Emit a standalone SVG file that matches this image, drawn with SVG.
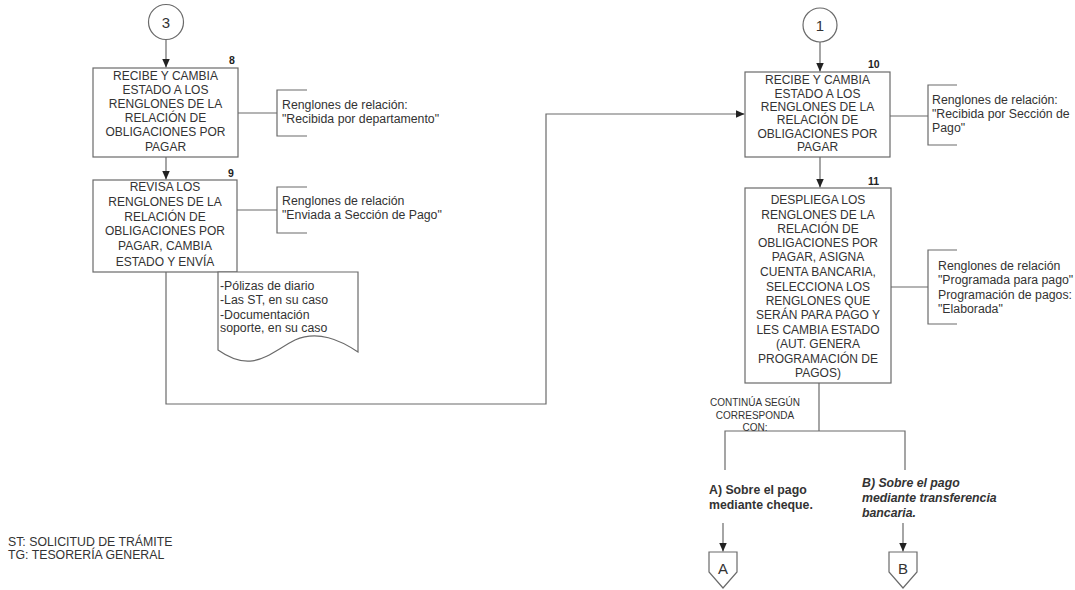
<svg xmlns="http://www.w3.org/2000/svg" width="1075" height="590" viewBox="0 0 1075 590">
<style>
.bx{fill:#fff;stroke:#6a6a6a;stroke-width:1.2}
.ln{fill:none;stroke:#6a6a6a;stroke-width:1.2}
.t{font-family:"Liberation Sans",Arial,sans-serif;font-size:12px;fill:#333;text-anchor:middle}
.n{font-family:"Liberation Sans",Arial,sans-serif;font-size:10.5px;font-weight:bold;fill:#222}
.a{font-family:"Liberation Sans",Arial,sans-serif;font-size:12.3px;fill:#333}
.c{font-family:"Liberation Sans",Arial,sans-serif;font-size:10px;fill:#333;text-anchor:middle}
.b{font-family:"Liberation Sans",Arial,sans-serif;font-size:12.3px;font-weight:bold;fill:#333}
.ci{font-family:"Liberation Sans",Arial,sans-serif;font-size:15px;fill:#333;text-anchor:middle}
</style>
<defs>
<marker id="ah" markerWidth="10" markerHeight="10" refX="9" refY="5" orient="auto" markerUnits="userSpaceOnUse">
<path d="M0,1 L9,5 L0,9 Z" fill="#222"/>
</marker>
</defs>
<rect width="1075" height="590" fill="#fff"/>

<g id="connectors">
<line class="ln" x1="166" y1="40" x2="166" y2="67.5" marker-end="url(#ah)"/>
<line class="ln" x1="166" y1="157" x2="166" y2="179.5" marker-end="url(#ah)"/>
<polyline class="ln" points="166,272 166,404 546,404 546,114 744.5,114" marker-end="url(#ah)"/>
<line class="ln" x1="820" y1="42" x2="820" y2="71.5" marker-end="url(#ah)"/>
<line class="ln" x1="820" y1="157" x2="820" y2="187.5" marker-end="url(#ah)"/>
<polyline class="ln" points="819,383 819,431"/>
<polyline class="ln" points="725,470 725,431 905,431 905,470"/>
<line class="ln" x1="723" y1="523" x2="723" y2="551.5" marker-end="url(#ah)"/>
<line class="ln" x1="903" y1="523" x2="903" y2="551.5" marker-end="url(#ah)"/>
<line class="ln" x1="238" y1="113" x2="277" y2="113"/>
<line class="ln" x1="237" y1="210" x2="277" y2="210"/>
<line class="ln" x1="890" y1="116" x2="928" y2="116"/>
<line class="ln" x1="891" y1="287" x2="928" y2="287"/>
</g>

<g id="conn3">
<circle class="bx" cx="166" cy="22" r="17.5"/>
<text class="ci" x="166" y="27.5">3</text>
</g>

<g id="step8">
<rect class="bx" x="93" y="68" width="145" height="89"/>
<text class="n" x="229" y="64">8</text>
<text class="t" x="165.5" y="80">RECIBE Y CAMBIA</text>
<text class="t" x="165.5" y="94">ESTADO A LOS</text>
<text class="t" x="165.5" y="108">RENGLONES DE LA</text>
<text class="t" x="165.5" y="122">RELACIÓN DE</text>
<text class="t" x="165.5" y="136">OBLIGACIONES POR</text>
<text class="t" x="165.5" y="150.5">PAGAR</text>
</g>

<g id="note8">
<polyline class="ln" points="307,90 277,90 277,136 307,136"/>
<text class="a" x="282" y="109">Renglones de relación:</text>
<text class="a" x="282" y="123">"Recibida por departamento"</text>
</g>

<g id="step9">
<rect class="bx" x="93" y="180" width="144" height="92"/>
<text class="n" x="228" y="177">9</text>
<text class="t" x="165" y="191">REVISA LOS</text>
<text class="t" x="165" y="206">RENGLONES DE LA</text>
<text class="t" x="165" y="221">RELACIÓN DE</text>
<text class="t" x="165" y="235">OBLIGACIONES POR</text>
<text class="t" x="165" y="250">PAGAR, CAMBIA</text>
<text class="t" x="165" y="266">ESTADO Y ENVÍA</text>
</g>

<g id="note9">
<polyline class="ln" points="307,187 277,187 277,233 307,233"/>
<text class="a" x="282" y="205">Renglones de relación</text>
<text class="a" x="282" y="219">"Enviada a Sección de Pago"</text>
</g>

<g id="document">
<path class="bx" d="M218,272 L358,272 L358,352 C340,340 318,330 295,340 C268,354 252,374 218,350 Z"/>
<text class="a" x="220" y="290">-Pólizas de diario</text>
<text class="a" x="220" y="304">-Las ST, en su caso</text>
<text class="a" x="220" y="318.5">-Documentación</text>
<text class="a" x="220" y="332">soporte, en su caso</text>
</g>

<g id="conn1">
<circle class="bx" cx="820" cy="25" r="17"/>
<text class="ci" x="820" y="30.5">1</text>
</g>

<g id="step10">
<rect class="bx" x="745" y="72" width="145" height="85"/>
<text class="n" x="868" y="68">10</text>
<text class="t" x="817.5" y="84">RECIBE Y CAMBIA</text>
<text class="t" x="817.5" y="98">ESTADO A LOS</text>
<text class="t" x="817.5" y="111">RENGLONES DE LA</text>
<text class="t" x="817.5" y="124">RELACIÓN DE</text>
<text class="t" x="817.5" y="137.5">OBLIGACIONES POR</text>
<text class="t" x="817.5" y="151">PAGAR</text>
</g>

<g id="note10">
<polyline class="ln" points="957,85 928,85 928,145 957,145"/>
<text class="a" x="932" y="104">Renglones de relación:</text>
<text class="a" x="932" y="118">"Recibida por Sección de</text>
<text class="a" x="932" y="132">Pago"</text>
</g>

<g id="step11">
<rect class="bx" x="745" y="188" width="146" height="195"/>
<text class="n" x="868" y="185">11</text>
<text class="t" x="818" y="204">DESPLIEGA LOS</text>
<text class="t" x="818" y="219">RENGLONES DE LA</text>
<text class="t" x="818" y="233">RELACIÓN DE</text>
<text class="t" x="818" y="247">OBLIGACIONES POR</text>
<text class="t" x="818" y="261">PAGAR, ASIGNA</text>
<text class="t" x="818" y="276">CUENTA BANCARIA,</text>
<text class="t" x="818" y="291">SELECCIONA LOS</text>
<text class="t" x="818" y="305">RENGLONES QUE</text>
<text class="t" x="818" y="319">SERÁN PARA PAGO Y</text>
<text class="t" x="818" y="334">LES CAMBIA ESTADO</text>
<text class="t" x="818" y="348">(AUT. GENERA</text>
<text class="t" x="818" y="363">PROGRAMACIÓN DE</text>
<text class="t" x="818" y="377">PAGOS)</text>
</g>

<g id="note11">
<polyline class="ln" points="957,250 928,250 928,324 957,324"/>
<text class="a" x="938" y="270">Renglones de relación</text>
<text class="a" x="938" y="284">"Programada para pago"</text>
<text class="a" x="938" y="299">Programación de pagos:</text>
<text class="a" x="938" y="313">"Elaborada"</text>
</g>

<g id="continua">
<text class="c" x="755" y="405.5">CONTINÚA SEGÚN</text>
<text class="c" x="755" y="418.5">CORRESPONDA</text>
<text class="c" x="755" y="431">CON:</text>
</g>

<g id="optionA">
<text class="b" x="709" y="494">A) Sobre el pago</text>
<text class="b" x="709" y="509">mediante cheque.</text>
</g>

<g id="optionB">
<text class="b" x="862" y="487" font-style="italic">B) Sobre el pago</text>
<text class="b" x="862" y="502" font-style="italic">mediante transferencia</text>
<text class="b" x="862" y="517" font-style="italic">bancaria.</text>
</g>

<g id="offpageA">
<polygon class="bx" points="709,552 737,552 737,572 723,588 709,572"/>
<text class="ci" x="723" y="574">A</text>
</g>

<g id="offpageB">
<polygon class="bx" points="889,552 917,552 917,572 903,588 889,572"/>
<text class="ci" x="903" y="574">B</text>
</g>

<g id="legend">
<text class="a" x="8" y="546" font-size="12">ST: SOLICITUD DE TRÁMITE</text>
<text class="a" x="8" y="559" font-size="12">TG: TESORERÍA GENERAL</text>
</g>
</svg>
